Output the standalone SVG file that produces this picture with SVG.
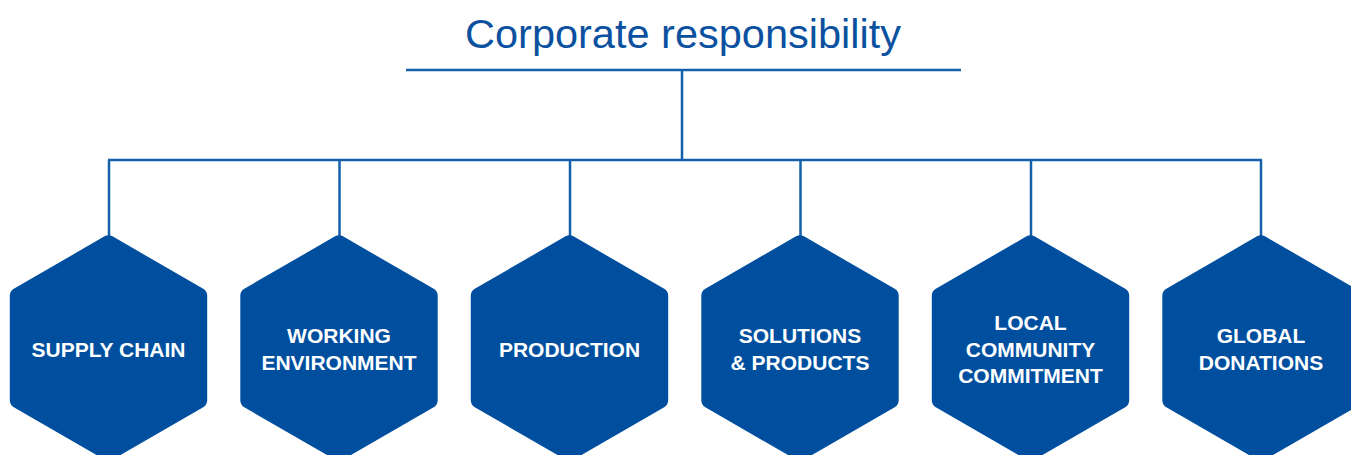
<svg xmlns="http://www.w3.org/2000/svg" width="1351" height="455" viewBox="0 0 1351 455">
<style>
.hex{fill:#004F9F;stroke:#004F9F;stroke-width:16;stroke-linejoin:round}
.lbl{fill:#fff;font-family:"Liberation Sans",Arial,sans-serif;font-weight:bold;font-size:21px;text-anchor:middle}
.ln{stroke:#1560AA;stroke-width:2.5;fill:none}
</style>
<defs>
<polygon id="hx" points="0,-104.7 90.7,-52.35 90.7,52.35 0,104.7 -90.7,52.35 -90.7,-52.35"/>
</defs>
<g id="title">
<text x="683" y="48" fill="#0B51A0" font-family="Liberation Sans,Arial,sans-serif" font-size="41.5" text-anchor="middle">Corporate responsibility</text>
</g>
<g id="connectors" class="ln">
<line x1="406" y1="70" x2="961" y2="70"/>
<line x1="682" y1="70" x2="682" y2="160"/>
<line x1="108" y1="160" x2="1262" y2="160"/>
<line x1="109" y1="160" x2="109" y2="240"/>
<line x1="339.5" y1="160" x2="339.5" y2="240"/>
<line x1="570" y1="160" x2="570" y2="240"/>
<line x1="800.5" y1="160" x2="800.5" y2="240"/>
<line x1="1031" y1="160" x2="1031" y2="240"/>
<line x1="1261" y1="160" x2="1261" y2="240"/>
</g>
<g id="n1"><use href="#hx" class="hex" x="108.5" y="348"/><text class="lbl" x="108.5" y="357">SUPPLY CHAIN</text></g>
<g id="n2"><use href="#hx" class="hex" x="339" y="348"/><text class="lbl" x="339" y="343">WORKING</text><text class="lbl" x="339" y="370">ENVIRONMENT</text></g>
<g id="n3"><use href="#hx" class="hex" x="569.5" y="348"/><text class="lbl" x="569.5" y="357">PRODUCTION</text></g>
<g id="n4"><use href="#hx" class="hex" x="800" y="348"/><text class="lbl" x="800" y="343">SOLUTIONS</text><text class="lbl" x="800" y="370">&amp; PRODUCTS</text></g>
<g id="n5"><use href="#hx" class="hex" x="1030.5" y="348"/><text class="lbl" x="1030.5" y="330">LOCAL</text><text class="lbl" x="1030.5" y="357">COMMUNITY</text><text class="lbl" x="1030.5" y="383">COMMITMENT</text></g>
<g id="n6"><use href="#hx" class="hex" x="1261" y="348"/><text class="lbl" x="1261" y="343">GLOBAL</text><text class="lbl" x="1261" y="370">DONATIONS</text></g>
</svg>
